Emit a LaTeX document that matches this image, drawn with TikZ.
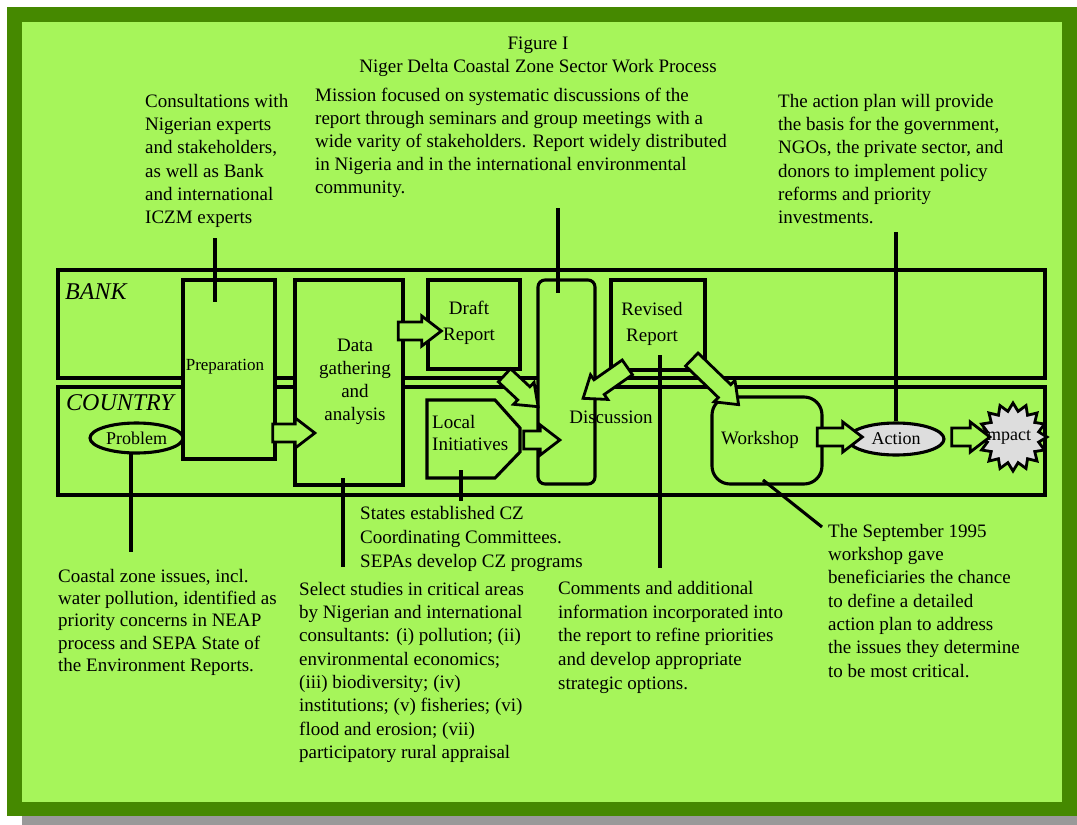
\documentclass[tikz,border=0pt]{standalone}
\usepackage{fontspec}
\setmainfont{Liberation Serif}
\usetikzlibrary{shapes.arrows,shapes.symbols,shapes.geometric}
\definecolor{lgreen}{RGB}{166,245,90}
\definecolor{dgreen}{RGB}{69,137,0}
\definecolor{shadowgray}{RGB}{153,153,153}
\definecolor{lgray}{RGB}{221,221,221}
\begin{document}
\begin{tikzpicture}[x=1pt,y=-1pt,
  box/.style={draw, line width=3.1pt, fill=lgreen, inner sep=0pt},
  para/.style={font=\fontsize{19}{23.3}\selectfont, inner sep=0pt, align=left, anchor=north west},
  lab/.style={font=\fontsize{19}{23}\selectfont, inner sep=0pt, align=center},
  conn/.style={line width=3.1pt},
  barrow/.style={single arrow, draw, fill=lgreen, line width=2.8pt, inner xsep=0pt, inner ysep=7.5pt,
    single arrow head extend=6pt, single arrow tip angle=75, minimum width=30pt}
]
\useasboundingbox (0,0) rectangle (1077,825);
\fill[white] (0,0) rectangle (1077,825);
\fill[shadowgray] (22,816) rectangle (1077,825);
\fill[dgreen] (7,7) rectangle (1077,816);
\fill[lgreen] (22,22) rectangle (1062,802);

% title
\node[lab] (title) at (538,57) {Figure I\\Niger Delta Coastal Zone Sector Work Process};

% lanes
\node[box, minimum width=987, minimum height=108] (bank) at (551.5,324) {};
\node[box, minimum width=987, minimum height=108] (country) at (551.5,441) {};
\node[font=\fontsize{24}{28}\selectfont\itshape, inner sep=0pt, anchor=west] (bankT) at (65,292) {BANK};
\node[font=\fontsize{24}{28}\selectfont\itshape, inner sep=0pt, anchor=west] (countryT) at (66,403) {COUNTRY};

% process boxes
\node[box, minimum width=92, minimum height=179] (prep) at (229,369.5) {};
\node[box, minimum width=108, minimum height=205] (data) at (349,382.5) {};
\node[box, minimum width=92, minimum height=89] (draft) at (474,324.5) {};
\node[box, rounded corners=7pt, minimum width=57, minimum height=204] (disc) at (566.5,382) {};
\node[box, minimum width=94, minimum height=90] (revised) at (658,325) {};
\node[box, rounded corners=18pt, minimum width=110, minimum height=87] (work) at (767,440.5) {};
\draw[box] (427,400) -- (495,400) -- (520,428) -- (520,452) -- (495,478) -- (427,478) -- cycle;
\node[box, ellipse, minimum width=93, minimum height=30, font=\fontsize{18}{20}\selectfont] (problem) at (136.5,438) {Problem};
\node[box, ellipse, fill=lgray, minimum width=96, minimum height=32, font=\fontsize{18}{20}\selectfont] (action) at (896,439) {Action};
\node[box, star, fill=lgray, line width=2.8pt, star points=16, star point ratio=1.3,
  minimum size=68] (impact) at (1013,437) {};
\node[lab, font=\fontsize{18}{20}\selectfont] (impactT) at (1006,437) {Impact};

% box labels
\node[lab, font=\fontsize{17}{20}\selectfont] (prepT) at (225,367) {Preparation};
\node[lab] (dataT) at (355,382) {Data\\gathering\\and\\analysis};
\node[lab, font=\fontsize{19}{26}\selectfont] (draftT) at (469,323) {Draft\\Report};
\node[lab, font=\fontsize{19}{26}\selectfont] (revT) at (652,324) {Revised\\Report};
\node[para, font=\fontsize{19}{22}\selectfont] (localT) at (432,415) {Local\\Initiatives};
\node[lab] (discT) at (611,417) {Discussion};
\node[lab] (workT) at (760,440) {Workshop};

% connector lines
\coordinate (consA) at (215,238); \coordinate (consB) at (215,302);
\draw[conn] (consA) -- (consB);
\coordinate (misA) at (558,208); \coordinate (misB) at (558,293);
\draw[conn] (misA) -- (misB);
\coordinate (actA) at (896,232);
\draw[conn] (actA) -- (action.north);
\coordinate (probA) at (131,452); \coordinate (probB) at (131,552);
\draw[conn] (probA) -- (probB);
\coordinate (dataA) at (343,478); \coordinate (dataB) at (343,567);
\draw[conn] (dataA) -- (dataB);
\coordinate (locA) at (461,470); \coordinate (locB) at (461,501);
\draw[conn] (locA) -- (locB);
\coordinate (revA) at (660,355); \coordinate (revB) at (660,568);
\draw[conn] (revA) -- (revB);
\coordinate (workA) at (763,480); \coordinate (workB) at (822,527);
\draw[conn] (workA) -- (workB);

% block arrows
\node[barrow, minimum height=42] (a1) at (288,433) {};
\node[barrow, minimum height=43] (a2) at (414,331) {};
\node[barrow, minimum height=46, rotate=-43] (a3) at (517,387) {};
\node[barrow, minimum height=36] (a4) at (536,440) {};
\node[barrow, minimum height=54, rotate=215] (a5) at (610,379.5) {};
\node[barrow, minimum height=65, rotate=-44] (a6) at (711,378) {};
\node[barrow, minimum height=45] (a7) at (834,437) {};
\node[barrow, minimum height=38] (a8) at (965,437) {};

% annotation texts
\node[para] (consT) at (145,94) {Consultations with\\Nigerian experts\\and stakeholders,\\as well as Bank\\and international\\ICZM experts};
\node[para, font=\fontsize{19}{23}\selectfont] (misT) at (315,88) {Mission focused on systematic discussions of the\\report through seminars and group meetings with a\\wide varity of stakeholders. Report widely distributed\\in Nigeria and in the international environmental\\community.};
\node[para] (actT) at (778,94) {The action plan will provide\\the basis for the government,\\NGOs, the private sector, and\\donors to implement policy\\reforms and priority\\investments.};
\node[para, font=\fontsize{19}{24}\selectfont] (statesT) at (360,506) {States established CZ\\Coordinating Committees.\\SEPAs develop CZ programs};
\node[para, font=\fontsize{19}{22.3}\selectfont] (coastT) at (58,569) {Coastal zone issues, incl.\\water pollution, identified as\\priority concerns in NEAP\\process and SEPA State of\\the Environment Reports.};
\node[para] (selT) at (299,582) {Select studies in critical areas\\by Nigerian and international\\consultants: (i) pollution; (ii)\\environmental economics;\\(iii) biodiversity; (iv)\\institutions; (v) fisheries; (vi)\\flood and erosion; (vii)\\participatory rural appraisal};
\node[para, font=\fontsize{19}{23.75}\selectfont] (comT) at (558,581) {Comments and additional\\information incorporated into\\the report to refine priorities\\and develop appropriate\\strategic options.};
\node[para] (sepT) at (828,524) {The September 1995\\workshop gave\\beneficiaries the chance\\to define a detailed\\action plan to address\\the issues they determine\\to be most critical.};
\end{tikzpicture}
\end{document}
